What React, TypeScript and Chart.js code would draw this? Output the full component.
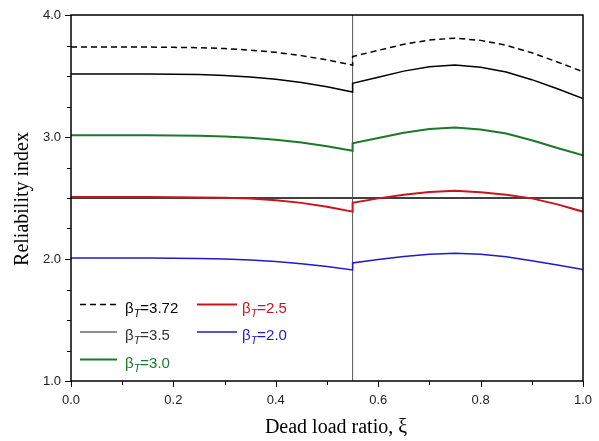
import React, { useEffect, useRef } from "react";
import { Chart, registerables } from "chart.js";

Chart.register(...registerables);

// Dead load ratio (xi); 0.55 appears twice to show the discontinuity
const XI = [0, 0.05, 0.1, 0.15, 0.2, 0.25, 0.3, 0.35, 0.4, 0.45, 0.5, 0.55,
  0.55, 0.6, 0.65, 0.7, 0.75, 0.8, 0.85, 0.9, 0.95, 1.0];

const B372 = [3.737, 3.737, 3.737, 3.737, 3.735, 3.732, 3.725, 3.712, 3.694, 3.667, 3.632, 3.589,
  3.66, 3.71, 3.76, 3.795, 3.81, 3.792, 3.752, 3.69, 3.615, 3.535];
const B35 = [3.517, 3.517, 3.517, 3.517, 3.515, 3.512, 3.505, 3.492, 3.474, 3.447, 3.412, 3.369,
  3.44, 3.49, 3.54, 3.575, 3.59, 3.572, 3.532, 3.47, 3.395, 3.315];
const B30 = [3.015, 3.015, 3.015, 3.015, 3.013, 3.01, 3.004, 2.993, 2.978, 2.954, 2.924, 2.887,
  2.948, 2.991, 3.034, 3.065, 3.077, 3.062, 3.028, 2.974, 2.91, 2.85];
const B25 = [2.508, 2.508, 2.508, 2.508, 2.507, 2.505, 2.502, 2.496, 2.482, 2.46, 2.428, 2.388,
  2.461, 2.497, 2.526, 2.549, 2.559, 2.547, 2.527, 2.497, 2.448, 2.388];
const B20 = [2.008, 2.008, 2.008, 2.008, 2.007, 2.005, 2.0, 1.991, 1.98, 1.962, 1.939, 1.91,
  1.968, 1.995, 2.02, 2.038, 2.047, 2.038, 2.018, 1.986, 1.95, 1.914];

const SERIES_LABELS = ["3.72", "3.5", "3.0", "2.5", "2.0"];
const SERIES_VALUES = [B372, B35, B30, B25, B20];
const SERIES_COLORS = ["#000000", "#000000", "#1b7a2a", "#c8161d", "#1c1cc8"];
const SERIES_WIDTHS = [1.5, 1.5, 2, 2, 1.5];
const SERIES_DASH: number[][] = [[6, 4], [], [], [], []];

const REF_XI = 0.55;
const REF_BETA = 2.5;
const X_RANGE = [0, 1];
const Y_RANGE = [1, 4];
const X_TITLE = "Dead load ratio, ξ";
const Y_TITLE = "Reliability index";

const decoPlugin = {
  id: "deco",
  afterDraw(chart: any) {
    const { ctx, chartArea } = chart;
    const { left, right, top, bottom } = chartArea;
    const xs = chart.scales.x;
    const ys = chart.scales.y;
    ctx.save();
    // box
    ctx.strokeStyle = "#000";
    ctx.lineWidth = 1.5;
    ctx.strokeRect(left, top, right - left, bottom - top);
    // ticks
    ctx.lineWidth = 1;
    ctx.beginPath();
    for (let i = 0; i <= 10; i++) {
      const px = Math.round(xs.getPixelForValue(i / 10)) + 0.5;
      const len = i % 2 === 0 ? 6 : 4;
      ctx.moveTo(px, bottom);
      ctx.lineTo(px, bottom + len);
    }
    for (let i = 0; i <= 12; i++) {
      const py = Math.round(ys.getPixelForValue(1 + i * 0.25)) + 0.5;
      const len = i % 4 === 0 ? 6 : 4;
      ctx.moveTo(left, py);
      ctx.lineTo(left - len, py);
    }
    ctx.stroke();

    // axis titles
    ctx.fillStyle = "#000";
    ctx.font = '20px "Liberation Serif"';
    ctx.textAlign = "center";
    ctx.textBaseline = "middle";
    ctx.fillText(X_TITLE, 336, 428);
    ctx.save();
    ctx.translate(23, 199);
    ctx.rotate(-Math.PI / 2);
    ctx.fillText(Y_TITLE, 0, 0);
    ctx.restore();

    // legend
    const slots = [
      { lx: 80, len: 37, tx: 125, ly: 304.5 },
      { lx: 80, len: 37, tx: 125, ly: 332 },
      { lx: 80, len: 37, tx: 125, ly: 359.5 },
      { lx: 197, len: 40, tx: 242, ly: 304.5 },
      { lx: 197, len: 40, tx: 242, ly: 332 },
    ];
    ctx.textAlign = "left";
    ctx.textBaseline = "alphabetic";
    SERIES_LABELS.forEach((lab, i) => {
      const s = slots[i];
      ctx.strokeStyle = i === 1 ? "#222" : SERIES_COLORS[i];
      ctx.lineWidth = i === 1 ? 1.2 : SERIES_WIDTHS[i];
      ctx.setLineDash(SERIES_DASH[i]);
      ctx.beginPath();
      ctx.moveTo(s.lx, s.ly);
      ctx.lineTo(s.lx + s.len, s.ly);
      ctx.stroke();
      ctx.setLineDash([]);
      ctx.fillStyle = i === 1 ? "#333" : SERIES_COLORS[i];
      const base = s.ly + 8;
      let x = s.tx;
      ctx.font = '15px "Liberation Sans"';
      ctx.fillText("β", x, base);
      x += ctx.measureText("β").width;
      ctx.font = 'italic 11px "Liberation Sans"';
      ctx.fillText("T", x, base + 4);
      x += ctx.measureText("T").width;
      ctx.font = '15px "Liberation Sans"';
      ctx.fillText("=" + lab, x, base);
    });
    ctx.restore();
  },
};

export default function App() {
  const ref = useRef<HTMLCanvasElement | null>(null);
  useEffect(() => {
    if (!ref.current) return;
    const datasets: any[] = SERIES_VALUES.map((vals, i) => ({
      label: SERIES_LABELS[i],
      data: XI.map((x, j) => ({ x, y: vals[j] })),
      borderColor: SERIES_COLORS[i],
      borderWidth: SERIES_WIDTHS[i],
      borderDash: SERIES_DASH[i],
      pointRadius: 0,
      tension: 0,
      fill: false,
    }));
    datasets.push({
      label: "ref-x",
      data: [{ x: REF_XI, y: Y_RANGE[0] }, { x: REF_XI, y: Y_RANGE[1] }],
      borderColor: "#555",
      borderWidth: 1,
      pointRadius: 0,
    });
    datasets.push({
      label: "ref-y",
      data: [{ x: X_RANGE[0], y: REF_BETA }, { x: X_RANGE[1], y: REF_BETA }],
      borderColor: "#000",
      borderWidth: 1.4,
      pointRadius: 0,
    });
    const chart = new Chart(ref.current, {
      type: "line",
      data: { datasets },
      options: {
        responsive: false,
        animation: false,
        layout: { padding: { left: 0, top: 15, right: 16, bottom: 0 } },
        plugins: { legend: { display: false }, tooltip: { enabled: false } },
        scales: {
          x: {
            type: "linear",
            min: X_RANGE[0],
            max: X_RANGE[1],
            afterFit: (s: any) => { s.height = 60; },
            grid: { display: true, drawOnChartArea: false, tickLength: 6, color: "rgba(0,0,0,0)" },
            border: { display: false },
            ticks: {
              stepSize: 0.2,
              padding: 6,
              color: "#222",
              font: { family: "Liberation Sans", size: 13 },
              callback: (v: any) => Number(v).toFixed(1),
            },
          },
          y: {
            type: "linear",
            min: Y_RANGE[0],
            max: Y_RANGE[1],
            afterFit: (s: any) => { s.width = 71; },
            grid: { display: true, drawOnChartArea: false, tickLength: 6, color: "rgba(0,0,0,0)" },
            border: { display: false },
            ticks: {
              stepSize: 1,
              padding: 4,
              color: "#222",
              font: { family: "Liberation Sans", size: 13 },
              callback: (v: any) => Number(v).toFixed(1),
            },
          },
        },
      },
      plugins: [decoPlugin],
    });
    return () => chart.destroy();
  }, []);
  return (
    <div style={{ position: "absolute", left: 0, top: 0, width: 599, height: 441 }}>
      <canvas ref={ref} width={599} height={441} style={{ display: "block" }} />
    </div>
  );
}
